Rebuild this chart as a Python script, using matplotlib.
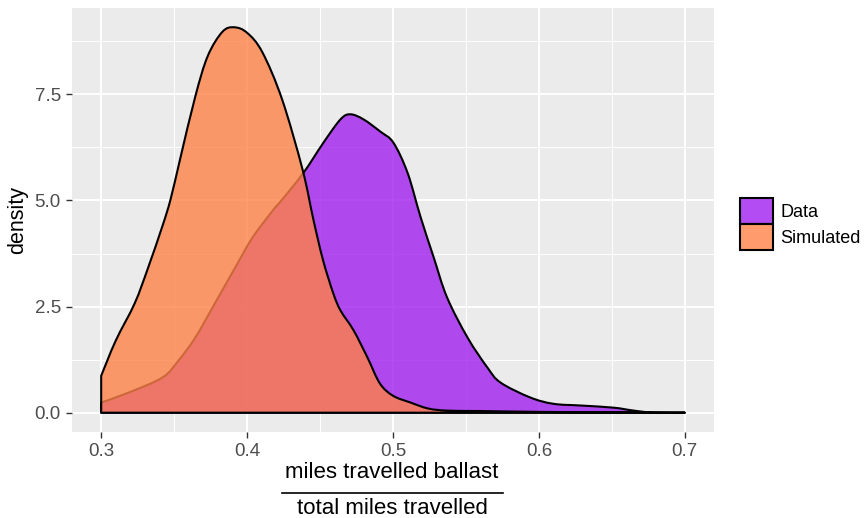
import numpy as np
import matplotlib.pyplot as plt
from matplotlib.colors import to_rgb
from matplotlib.patches import Patch, PathPatch
from matplotlib.path import Path
from matplotlib.lines import Line2D

plt.rcParams['font.family'] = ['Liberation Sans', 'DejaVu Sans']

# density curves (x = ballast share, y = density)
sim_x = [0.300, 0.310, 0.323, 0.332, 0.342, 0.3475, 0.354, 0.3645, 0.373, 0.383,
         0.391, 0.400, 0.4105, 0.424, 0.438, 0.4455, 0.452, 0.459, 0.464, 0.473,
         0.4825, 0.491, 0.500, 0.512, 0.524, 0.537, 0.560, 0.600, 0.650, 0.700]
sim_y = [0.87, 1.70, 2.58, 3.40, 4.40, 5.02, 5.96, 7.45, 8.40, 8.97,
         9.08, 8.95, 8.49, 7.38, 5.73, 4.54, 3.60, 2.82, 2.41, 1.94,
         1.30, 0.69, 0.40, 0.24, 0.10, 0.05, 0.04, 0.02, 0.01, 0.0]

data_x = [0.300, 0.3185, 0.342, 0.353, 0.3645, 0.378, 0.392, 0.4036, 0.4173, 0.424,
          0.4386, 0.4523, 0.464, 0.4708, 0.4798, 0.4914, 0.5003, 0.510, 0.5189, 0.5278,
          0.537, 0.5511, 0.5648, 0.5737, 0.594, 0.610, 0.6286, 0.651, 0.665, 0.679, 0.700]
data_y = [0.24, 0.47, 0.83, 1.23, 1.77, 2.58, 3.43, 4.12, 4.75, 5.02,
          5.65, 6.36, 6.91, 7.03, 6.91, 6.62, 6.36, 5.65, 4.61, 3.67,
          2.72, 1.77, 1.06, 0.71, 0.36, 0.21, 0.17, 0.12, 0.05, 0.0, 0.0]

labels = ['Data', 'Simulated']
fills = ['#A020F0', '#FF8247']
alpha = 0.8

x_ticks = [0.3, 0.4, 0.5, 0.6, 0.7]
y_ticks = [0.0, 2.5, 5.0, 7.5]


def density_path(xs, ys):
    # closed outline: baseline -> left edge -> smooth curve (catmull-rom as bezier) -> right edge
    pts = np.column_stack([xs, ys])
    verts = [(xs[0], 0.0), tuple(pts[0])]
    codes = [Path.MOVETO, Path.LINETO]
    n = len(pts)
    for i in range(n - 1):
        p0 = pts[max(i - 1, 0)]
        p1 = pts[i]
        p2 = pts[i + 1]
        p3 = pts[min(i + 2, n - 1)]
        c1 = p1 + (p2 - p0) / 6.0
        c2 = p2 - (p3 - p1) / 6.0
        verts += [tuple(c1), tuple(c2), tuple(p2)]
        codes += [Path.CURVE4] * 3
    verts += [(xs[-1], 0.0), (xs[0], 0.0)]
    codes += [Path.LINETO, Path.CLOSEPOLY]
    return Path(verts, codes)


fig = plt.figure(figsize=(8.68, 5.18), dpi=100)
ax = fig.add_axes([72 / 868, 1 - 432 / 518, 642 / 868, 424 / 518])
ax.set_facecolor('#EBEBEB')
for s in ax.spines.values():
    s.set_visible(False)

for xs, ys, c in [(data_x, data_y, fills[0]), (sim_x, sim_y, fills[1])]:
    ax.add_patch(PathPatch(density_path(xs, ys), facecolor=(*to_rgb(c), alpha),
                           edgecolor='black', lw=1.5, joinstyle='round', zorder=3))

ax.set_xlim(0.28, 0.72)
ax.set_ylim(-0.454, 9.534)
ax.set_xticks(x_ticks)
ax.set_xticklabels([f'{v:.1f}' for v in x_ticks])
ax.set_yticks(y_ticks)
ax.set_yticklabels([f'{v:.1f}' for v in y_ticks])
ax.set_xticks([0.35, 0.45, 0.55, 0.65], minor=True)
ax.set_yticks([1.25, 3.75, 6.25, 8.75], minor=True)
ax.grid(which='major', color='white', lw=1.4, zorder=0)
ax.grid(which='minor', color='white', lw=0.7, zorder=0)
ax.set_axisbelow(True)
ax.tick_params(which='major', length=4, width=1.0, color='#333333',
               labelsize=13.5, labelcolor='#4D4D4D', pad=4)
ax.tick_params(which='minor', length=0)

ax.set_ylabel('density', fontsize=15.5, labelpad=5)

# fraction-style x axis title
fig.text(392 / 868, 1 - 472 / 518, 'miles travelled ballast', ha='center',
         va='center', fontsize=16)
fig.text(392 / 868, 1 - 508 / 518, 'total miles travelled', ha='center',
         va='center', fontsize=16)
fig.add_artist(Line2D([282 / 868, 503 / 868], [1 - 493 / 518, 1 - 493 / 518],
                      color='black', lw=1.2, transform=fig.transFigure))

handles = [Patch(facecolor=(*to_rgb(c), alpha), edgecolor='black', lw=1.5) for c in fills]
fig.legend(handles, labels, loc='center left', bbox_to_anchor=(740 / 868, 1 - 224 / 518),
           frameon=False, fontsize=13, handlelength=1.85, handleheight=1.85,
           labelspacing=0.0, handletextpad=0.4, borderpad=0, borderaxespad=0)

fig.savefig('out.png', dpi=100)
